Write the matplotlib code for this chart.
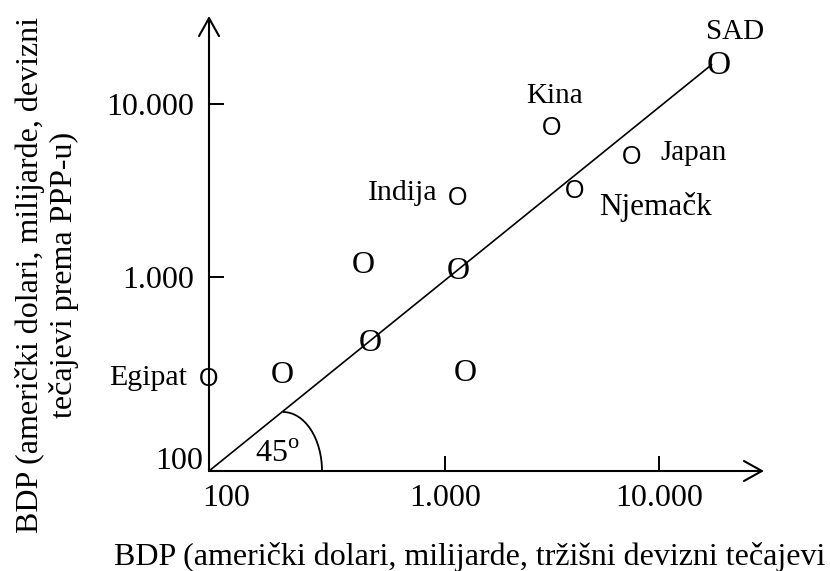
import matplotlib
matplotlib.use('Agg')
import matplotlib.pyplot as plt
import matplotlib.transforms as mtransforms
from matplotlib.patches import Arc
from matplotlib.ticker import NullLocator

plt.rcParams['font.family'] = ['Liberation Serif', 'DejaVu Serif']
plt.rcParams['mathtext.fontset'] = 'custom'
plt.rcParams['mathtext.rm'] = 'Liberation Serif'

# ---- data ----
x_limits = [79, 30900]
y_limits = [76, 32300]
x_ticks = [100, 1000, 10000]
x_tick_labels = ['100', '1.000', '10.000']
y_ticks = [1000, 10000]
y_tick_labels = ['1.000', '10.000']

# labelled countries
countries = ['SAD', 'Kina', 'Japan', 'Njemačk', 'Indija', 'Egipat']
country_x = [19050, 3160, 7480, 4050, 1140, 79]
country_y = [17500, 7560, 5140, 3270, 2980, 268]
country_marker_font = ['serif', 'sans', 'sans', 'sans', 'sans', 'sans']

# unlabelled points
other_x = [1150, 414, 447, 173, 1240]
other_y = [1127, 1221, 432, 282, 290]

# 45 degree line
diag_x = [79, 17700]
diag_y = [76, 17000]

x_label = 'BDP (američki dolari, milijarde, tržišni devizni tečajevi'
y_label = 'BDP (američki dolari, milijarde, devizni\ntečajevi prema PPP-u)'

# ---- figure ----
W, H = 830, 571
FS = 23
fig = plt.figure(figsize=(W / 100, H / 100), dpi=100)
x0p, y0p, x1p, y1p = 209, 471, 764, 16
ax = fig.add_axes([x0p / W, (H - y0p) / H, (x1p - x0p) / W, (y0p - y1p) / H])
ax.set_xscale('log')
ax.set_yscale('log')
ax.set_xlim(x_limits)
ax.set_ylim(y_limits)
for s in ax.spines.values():
    s.set_visible(False)
ax.patch.set_alpha(0)

# axes with arrows
arrow_kw = dict(arrowstyle='->,head_length=0.43,head_width=0.24', lw=1.5,
                color='black', mutation_scale=30, shrinkA=0, shrinkB=0)
ax.annotate('', xy=(1, 0), xytext=(0, 0), xycoords='axes fraction',
            textcoords='axes fraction', arrowprops=arrow_kw)
ax.annotate('', xy=(0, 1), xytext=(0, 0), xycoords='axes fraction',
            textcoords='axes fraction', arrowprops=arrow_kw)

# ticks
ax.set_xticks(x_ticks, x_tick_labels)
ax.set_yticks(y_ticks, y_tick_labels)
ax.xaxis.set_minor_locator(NullLocator())
ax.yaxis.set_minor_locator(NullLocator())
ax.tick_params(axis='both', direction='in', length=10.8, width=1.4,
               labelsize=FS, pad=9)
ax.tick_params(axis='y', pad=11)
first_tick = ax.xaxis.get_major_ticks()[0]
first_tick.tick1line.set_visible(False)
shift = mtransforms.ScaledTranslation(-5 / 100, 0, fig.dpi_scale_trans)
first_tick.label1.set_transform(first_tick.label1.get_transform() + shift)
ax.text(-0.011, 0.02, '100', transform=ax.transAxes, ha='right',
        va='center', fontsize=FS)

# 45-degree line
ax.plot(diag_x, diag_y, color='black', lw=1.2, solid_capstyle='butt')

# arc and angle label
ax.add_patch(Arc(((283 - 209) / 555, 0), 2 * 39 / 555, 2 * 59 / 455,
                 theta1=0, theta2=90, transform=ax.transAxes,
                 color='black', lw=1.3))
ax.text(0.083, 0.036, '45$^{\\rm o}$', transform=ax.transAxes,
        ha='left', va='center', fontsize=FS)

# markers drawn as letter O
for x, y, f in zip(country_x, country_y, country_marker_font):
    if f == 'serif':
        ax.text(x, y, 'O', ha='center', va='center_baseline', fontsize=24,
                family='Liberation Serif')
    else:
        ax.text(x, y, 'O', ha='center', va='center_baseline', fontsize=18,
                family='Liberation Sans')
for x, y in zip(other_x, other_y):
    ax.text(x, y, 'O', ha='center', va='center_baseline', fontsize=23,
            family='Liberation Serif')

# country labels (offsets in pixels -> points)
offsets = {
    'SAD': (16, 33, 'center', 21),
    'Kina': (3, 32, 'center', 21),
    'Japan': (28, 4, 'left', 21),
    'Njemačk': (24, -15, 'left', 22.5),
    'Indija': (-20, 5, 'right', 21.5),
    'Egipat': (-22, 1, 'right', 21.5),
}
for name, x, y in zip(countries, country_x, country_y):
    dx, dy, ha, fs = offsets[name]
    ax.annotate(name, (x, y), xytext=(dx * 0.72, dy * 0.72),
                textcoords='offset points', ha=ha, va='center_baseline',
                fontsize=fs)

# axis titles
fig.text(470 / W, 1 - 557 / H, x_label, ha='center', va='center', fontsize=FS)
fig.text(47 / W, 1 - 275 / H, y_label, ha='center', va='center',
         rotation=90, fontsize=FS, multialignment='center', linespacing=1.15)

fig.savefig('out.png', dpi=100)
